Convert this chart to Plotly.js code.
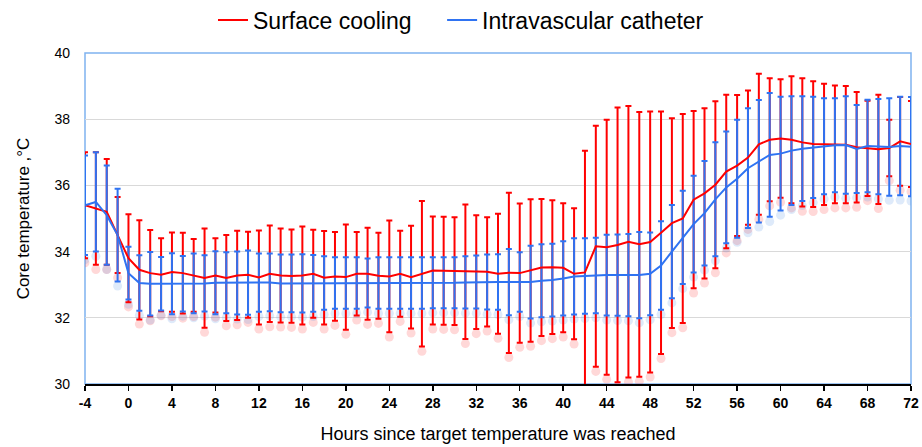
<!DOCTYPE html>
<html>
<head>
<meta charset="utf-8">
<script src="https://cdn.plot.ly/plotly-3.0.1.min.js"></script>
<style>html,body{margin:0;padding:0;background:#fff;}#chart{width:922px;height:447px;}</style>
</head>
<body>
<div id="chart"></div>
<script>
const hours = [-4,-3,-2,-1,0,1,2,3,4,5,6,7,8,9,10,11,12,13,14,15,16,17,18,19,20,21,22,23,24,25,26,27,28,29,30,31,32,33,34,35,36,37,38,39,40,41,42,43,44,45,46,47,48,49,50,51,52,53,54,55,56,57,58,59,60,61,62,63,64,65,66,67,68,69,70,71,72];

const surfaceMean = [35.4,35.3,35.2,34.5,33.8,33.45,33.35,33.3,33.38,33.35,33.28,33.2,33.28,33.2,33.28,33.3,33.22,33.33,33.28,33.26,33.28,33.33,33.21,33.25,33.23,33.33,33.33,33.27,33.25,33.33,33.23,33.33,33.43,33.42,33.41,33.39,33.38,33.39,33.33,33.36,33.35,33.43,33.52,33.53,33.51,33.33,33.37,34.16,34.13,34.2,34.3,34.22,34.29,34.57,34.86,35.0,35.57,35.76,36.02,36.42,36.6,36.84,37.24,37.38,37.42,37.38,37.3,37.25,37.24,37.24,37.23,37.15,37.12,37.09,37.13,37.33,37.25];
const surfaceSD = [1.6,1.7,1.6,1.15,1.33,1.5,1.3,1.1,1.2,1.22,1.1,1.5,1.12,1.3,1.35,1.3,1.42,1.46,1.42,1.41,1.48,1.33,1.41,1.34,1.59,1.26,1.39,1.3,1.69,1.3,1.55,2.2,1.63,1.63,1.63,2.03,1.72,1.65,1.81,2.42,2.1,2.15,2.07,2.02,1.95,1.98,3.68,3.64,3.85,4.15,4.1,4.0,3.94,3.66,3.17,3.16,2.68,2.57,2.52,2.32,2.13,2.03,2.13,1.86,1.79,1.92,1.94,1.9,1.83,1.78,1.77,1.67,1.44,1.65,0.85,1.34,1.3];

const catheterMean = [35.4,35.5,35.1,34.5,33.35,33.05,33.03,33.03,33.03,33.03,33.04,33.04,33.06,33.06,33.05,33.06,33.06,33.07,33.04,33.04,33.04,33.04,33.05,33.05,33.05,33.05,33.05,33.05,33.05,33.05,33.05,33.05,33.06,33.06,33.06,33.07,33.08,33.08,33.08,33.08,33.08,33.08,33.12,33.14,33.19,33.25,33.26,33.28,33.29,33.29,33.29,33.29,33.33,33.58,34.0,34.43,34.83,35.16,35.58,35.94,36.2,36.52,36.73,36.92,36.96,37.05,37.11,37.15,37.18,37.21,37.22,37.1,37.19,37.17,37.16,37.19,37.17];
const catheterSD = [1.5,1.5,1.5,1.4,0.8,0.84,0.96,0.81,0.92,0.84,0.9,0.85,0.95,0.92,0.95,0.97,0.88,0.87,0.87,0.87,0.88,0.86,0.81,0.78,0.78,0.78,0.74,0.78,0.78,0.78,0.78,0.78,0.77,0.77,0.77,0.79,0.8,0.83,0.84,1.0,0.9,1.1,1.1,1.1,1.12,1.15,1.14,1.14,1.22,1.23,1.24,1.3,1.25,1.34,1.41,1.41,1.46,1.58,1.72,1.69,1.78,1.81,1.85,1.87,1.72,1.64,1.58,1.53,1.45,1.42,1.47,1.33,1.4,1.44,1.47,1.49,1.5];

const xTicks = [-4,0,4,8,12,16,20,24,28,32,36,40,44,48,52,56,60,64,68,72];
const yTicks = [30,32,34,36,38,40];

const RED = '#ff0000';
const BLUE = '#2f73f2';
const FONT = '"Liberation Sans Narrow", "Liberation Sans", Arial, sans-serif';

const redShadowY = surfaceMean.map((m, i) => m - surfaceSD[i] - 0.14);
const blueShadowY = catheterMean.map((m, i) => m - catheterSD[i] - 0.14);

const traces = [
  {x: hours, y: redShadowY, mode: 'markers', showlegend: false, hoverinfo: 'skip',
   marker: {symbol: 'circle', size: 9, color: 'rgba(255,60,60,0.2)'}},
  {x: hours, y: blueShadowY, mode: 'markers', showlegend: false, hoverinfo: 'skip',
   marker: {symbol: 'circle', size: 9, color: 'rgba(90,150,230,0.2)'}},
  {x: hours, y: surfaceMean, mode: 'lines', showlegend: false, hoverinfo: 'skip',
   line: {color: 'rgba(0,0,0,0)', width: 0},
   error_y: {type: 'data', array: surfaceSD, visible: true, color: RED, thickness: 2, width: 3}},
  {x: hours, y: catheterMean, mode: 'lines', showlegend: false, hoverinfo: 'skip',
   line: {color: 'rgba(0,0,0,0)', width: 0},
   error_y: {type: 'data', array: catheterSD, visible: true, color: BLUE, thickness: 2, width: 3}},
  {x: hours, y: surfaceMean, mode: 'lines', name: 'Surface cooling\u00a0\u00a0\u00a0\u00a0',
   line: {color: RED, width: 2}},
  {x: hours, y: catheterMean, mode: 'lines', name: 'Intravascular catheter',
   line: {color: BLUE, width: 2}}
];

const layout = {
  width: 922, height: 447,
  margin: {l: 85, r: 11, t: 53, b: 63},
  paper_bgcolor: '#ffffff', plot_bgcolor: '#ffffff',
  font: {family: FONT, color: '#000'},
  showlegend: true,
  legend: {orientation: 'h', x: 0.5, xanchor: 'center', xref: 'container',
           y: 0.955, yanchor: 'middle', yref: 'container',
           font: {size: 23, family: FONT, color: '#000'}, itemwidth: 30, bgcolor: 'rgba(0,0,0,0)'},
  xaxis: {
    range: [-4, 72], tickmode: 'array', tickvals: xTicks, ticktext: xTicks.map(String),
    showgrid: false, zeroline: false,
    showline: true, linecolor: '#000', linewidth: 2,
    ticks: 'outside', ticklen: 5, tickwidth: 1.5, tickcolor: '#000',
    tickfont: {size: 14, family: FONT, color: '#000', weight: 'bold'},
    title: {text: 'Hours since target temperature was reached', font: {size: 18, family: FONT, color: '#000'}, standoff: 18}
  },
  yaxis: {
    range: [30, 40], tickmode: 'array', tickvals: yTicks, ticktext: yTicks.map(String),
    showgrid: true, gridcolor: '#d9d9d9', gridwidth: 1, zeroline: false,
    showline: false, ticks: '', ticklabelstandoff: 14,
    tickfont: {size: 14, family: FONT, color: '#000'},
    title: {text: 'Core temperature ,°C', font: {size: 17, family: FONT, color: '#000'}, standoff: 20}
  },
  shapes: [
    {type: 'rect', xref: 'paper', yref: 'paper', x0: 0, x1: 1, y0: 0, y1: 1,
     line: {color: '#7fb2f0', width: 1.5}, fillcolor: 'rgba(0,0,0,0)', layer: 'below'}
  ]
};

Plotly.newPlot('chart', traces, layout, {displayModeBar: false, staticPlot: true});
</script>
</body>
</html>
